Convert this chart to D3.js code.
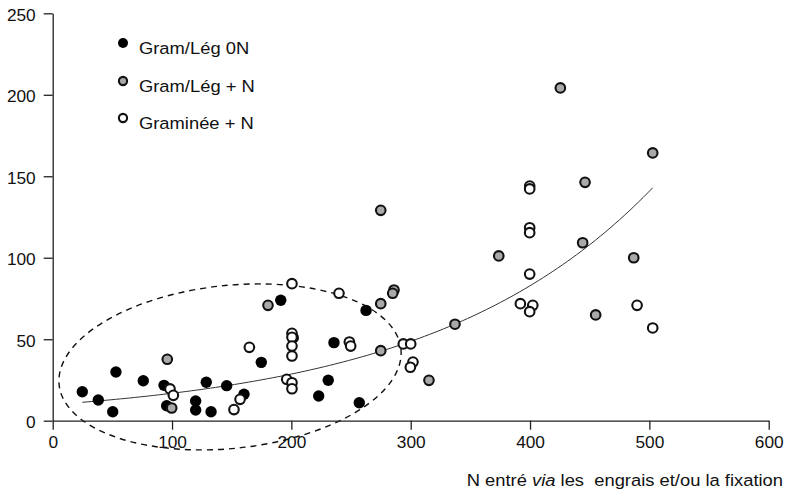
<!DOCTYPE html>
<html><head><meta charset="utf-8">
<script src="https://cdn.jsdelivr.net/npm/d3@7"></script>
<style>body{margin:0;background:#fff}svg{display:block}</style>
</head><body>
<svg id="c" width="787" height="493"></svg>
<script>
// ---- data ----
const xTicks = [0, 100, 200, 300, 400, 500, 600];
const yTicks = [0, 50, 100, 150, 200, 250];
const seriesNames = ["Gram/Lég 0N", "Gram/Lég + N", "Graminée + N"];
const xTitleParts = ["N entré ", "via", " les\u00a0 engrais et/ou la fixation"];

const gram0N_x = [24.8, 38.2, 50.3, 53.0, 75.9, 93.3, 95.5, 119.8, 119.8, 132.7, 128.7, 145.8, 160.3, 174.8, 191.1, 201.6, 222.9, 230.9, 235.7, 256.9, 262.6];
const gram0N_y = [17.8, 12.7, 5.5, 29.9, 24.5, 21.7, 9.2, 12.1, 6.6, 5.5, 23.6, 21.5, 16.2, 35.8, 73.9, 50.9, 15.2, 24.8, 47.9, 11.0, 67.7];

const gramN_x = [96.0, 99.7, 180.4, 274.9, 274.9, 286.0, 284.9, 274.9, 315.3, 337.1, 373.8, 425.4, 446.1, 444.1, 486.9, 455.0, 502.8];
const gramN_y = [37.7, 7.8, 70.8, 129.1, 71.8, 80.2, 78.2, 43.0, 24.8, 59.2, 101.1, 204.2, 146.3, 109.2, 100.0, 64.9, 164.3];

const gramineeN_x = [98.3, 101.1, 151.9, 157.0, 164.8, 200.5, 200.5, 200.5, 200.5, 200.5, 196.1, 200.5, 200.5, 239.9, 248.6, 249.7, 293.8, 300.0, 301.9, 299.7, 399.7, 399.7, 399.7, 399.7, 399.7, 391.9, 402.3, 399.7, 489.7, 502.8];
const gramineeN_y = [19.5, 15.6, 6.8, 13.1, 45.0, 84.1, 53.6, 51.2, 45.8, 39.7, 25.4, 23.3, 19.6, 78.2, 48.3, 45.8, 47.1, 47.1, 36.0, 32.8, 144.0, 142.2, 118.4, 115.4, 90.0, 71.8, 70.8, 66.9, 70.8, 56.9];

// exponential trend y = a * exp(b * x), over the observed x range
const fitA = 9.9, fitB = 0.00531, fitRange = [24.8, 502.8];
// dashed ellipse (data-space centre and radii, rotation in degrees)
const ellCentre = [148.6, 33.0], ellRadius = [144, 50], ellRotation = -6;

// ---- drawing ----
const W = 787, H = 493;
const FONT = "'Liberation Sans', Arial, Helvetica, sans-serif";
const SX = 1.08;
const svg = d3.select("#c");
const x = d3.scaleLinear().domain([0, 600]).range([52.7, 768.7]);
const y = d3.scaleLinear().domain([0, 250]).range([420.7, 13.3]);

function stretchText(sel) {
  sel.each(function () {
    const t = d3.select(this);
    const xv = +t.attr("x") || 0;
    t.attr("x", xv / SX).attr("transform", `scale(${SX},1)`);
  });
}

// ellipse
const ecx = x(ellCentre[0]), ecy = y(ellCentre[1]);
svg.append("ellipse")
  .attr("cx", ecx).attr("cy", ecy)
  .attr("rx", x(ellCentre[0] + ellRadius[0]) - ecx)
  .attr("ry", ecy - y(ellCentre[1] + ellRadius[1]))
  .attr("transform", `rotate(${ellRotation},${ecx},${ecy})`)
  .attr("fill", "none").attr("stroke", "#111")
  .attr("stroke-width", 1.4).attr("stroke-dasharray", "6,5");

// axes
const gx = svg.append("g").attr("transform", `translate(0,${y(0)})`)
  .call(d3.axisBottom(x).tickValues(xTicks).tickSize(9).tickSizeOuter(0).tickPadding(7).tickFormat(d3.format("d")));
const gy = svg.append("g").attr("transform", `translate(${x(0)},0)`)
  .call(d3.axisLeft(y).tickValues(yTicks).tickSize(9).tickSizeOuter(0).tickPadding(8).tickFormat(d3.format("d")));
[gx, gy].forEach(g => {
  g.select(".domain").attr("stroke", "#222").attr("stroke-width", 1.3);
  g.selectAll(".tick line").attr("stroke", "#222").attr("stroke-width", 1.3);
  g.selectAll("text").attr("font-family", FONT).attr("font-size", 16).attr("fill", "#111");
});
gy.selectAll("text").attr("dy", "0.45em");
stretchText(gx.selectAll("text"));
stretchText(gy.selectAll("text"));

// trend curve
const fitXs = d3.range(fitRange[0], fitRange[1] + 0.001, (fitRange[1] - fitRange[0]) / 120);
svg.append("path")
  .datum(fitXs)
  .attr("d", d3.line().x(d => x(d)).y(d => y(fitA * Math.exp(fitB * d))))
  .attr("fill", "none").attr("stroke", "#333").attr("stroke-width", 1);

// points
const styles = [
  { fill: "#000", stroke: "none", sw: 0, r: 5.7 },
  { fill: "#a9a9a9", stroke: "#111", sw: 2.1, r: 4.8 },
  { fill: "#fff", stroke: "#111", sw: 2.1, r: 4.8 }
];
const series = [
  d3.zip(gram0N_x, gram0N_y),
  d3.zip(gramN_x, gramN_y),
  d3.zip(gramineeN_x, gramineeN_y)
];
series.forEach((pts, i) => {
  const s = styles[i];
  svg.append("g").selectAll("circle").data(pts).join("circle")
    .attr("cx", d => x(d[0])).attr("cy", d => y(d[1])).attr("r", s.r)
    .attr("fill", s.fill).attr("stroke", s.stroke).attr("stroke-width", s.sw);
});

// legend
const legY = [43, 81, 118];
seriesNames.forEach((name, i) => {
  const s = styles[i];
  svg.append("circle").attr("cx", 123).attr("cy", legY[i])
    .attr("r", i === 0 ? 5 : 4.1)
    .attr("fill", s.fill).attr("stroke", s.stroke).attr("stroke-width", s.sw);
  const t = svg.append("text").attr("x", 139).attr("y", legY[i] + 11)
    .attr("font-family", FONT).attr("font-size", 17).attr("fill", "#111").text(name);
  stretchText(t);
});

// x title
const tt = svg.append("text").attr("x", 783).attr("y", 486).attr("text-anchor", "end")
  .attr("font-family", FONT).attr("font-size", 17).attr("fill", "#111");
xTitleParts.forEach((p, i) => {
  tt.append("tspan").attr("font-style", i === 1 ? "italic" : "normal").text(p);
});
stretchText(tt);
</script>
</body></html>
